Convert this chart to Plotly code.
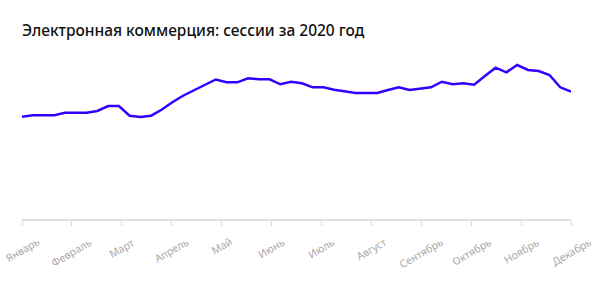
import plotly.graph_objects as go

# Weekly sessions, 2020 (52 weeks) (arbitrary units)
weeks = list(range(52))
sessions = [
    102.3, 103.7, 103.7, 103.7, 106.3, 106.3, 106.3, 108.0, 113.0, 113.0,
    103.3, 102.0, 103.3, 109.5, 117.0, 123.5, 129.0, 134.5, 139.5, 136.7,
    136.7, 140.7, 139.7, 139.7, 134.7, 137.3, 135.7, 131.7, 131.7, 129.3,
    127.7, 126.0, 126.0, 126.0, 129.0, 131.7, 129.0, 130.7, 131.7, 137.3,
    134.7, 135.7, 134.3, 143.0, 151.3, 146.7, 154.0, 149.0, 148.0, 144.0,
    131.7, 127.3,
]
months = ["Январь", "Февраль", "Март", "Апрель", "Май", "Июнь", "Июль",
          "Август", "Сентябрь", "Октябрь", "Ноябрь", "Декабрь"]

n_last = weeks[-1]
tick_pos = [i * n_last / (len(months) - 1) for i in range(len(months))]

fig = go.Figure()
fig.add_trace(go.Scatter(
    x=weeks, y=sessions, mode="lines",
    line=dict(color="#3300ff", width=2.5),
    hoverinfo="skip",
))

# month labels centred under the ticks, rotated
for pos, name in zip(tick_pos, months):
    fig.add_annotation(
        x=pos, xref="x", y=0, yref="paper",
        yshift=-13, xanchor="center", yanchor="top",
        text=name, textangle=-30, showarrow=False,
        font=dict(family="Noto Sans", size=10.5, color="#a8a8a8"),
    )

fig.update_layout(
    width=600, height=294,
    margin=dict(l=22, r=29, t=50, b=75),
    paper_bgcolor="white", plot_bgcolor="white",
    showlegend=False,
    title=dict(
        text="Электронная коммерция: сессии за 2020 год",
        x=0, xref="paper", xanchor="left",
        y=1, yref="container", yanchor="top", pad=dict(t=25),
        font=dict(family="Noto Sans", size=15.5, color="#111111", weight=500),
    ),
    xaxis=dict(
        range=[0, n_last], showgrid=False, zeroline=False,
        showline=True, linecolor="#e0e0e0", linewidth=1.5,
        ticks="outside", ticklen=5, tickcolor="#d8d8d8", tickwidth=1,
        tickvals=tick_pos, showticklabels=False,
    ),
    yaxis=dict(range=[0, 169], visible=False, fixedrange=True),
)

fig.write_html("out.html")
